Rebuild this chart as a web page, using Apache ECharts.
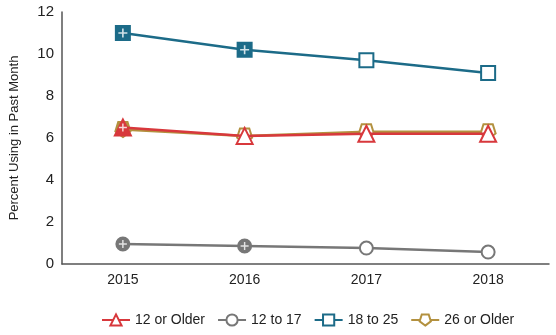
<!DOCTYPE html>
<html>
<head>
<meta charset="utf-8">
<script src="https://cdn.jsdelivr.net/npm/echarts@6/dist/echarts.min.js"></script>
<style>
  html, body { margin: 0; padding: 0; background: #fff; }
  #chart { width: 556px; height: 335px; }
</style>
</head>
<body>
<div id="chart"></div>
<script>
// Past-month use by age group, 2015-2018
const years = ['2015', '2016', '2017', '2018'];
const age12Plus = [6.5, 6.1, 6.2, 6.2];
const age12to17 = [0.95, 0.86, 0.76, 0.57];
const age18to25 = [11.0, 10.2, 9.7, 9.1];
const age26Plus = [6.4, 6.1, 6.3, 6.3];
// "+" = estimate differs significantly from the 2018 estimate
const sig12Plus = [true, false, false, false];
const sig12to17 = [true, true, false, false];
const sig18to25 = [true, true, false, false];
const sig26Plus = [true, false, false, false];
const yTicks = [0, 2, 4, 6, 8, 10, 12];

const FONT = '"Liberation Sans", Arial, sans-serif';
const PENTAGON = 'path://M0,1 L0.951,0.309 L0.588,-0.809 L-0.588,-0.809 L-0.951,0.309 Z';
const PLUS = 'path://M-0.18,-1 L0.18,-1 L0.18,-0.18 L1,-0.18 L1,0.18 L0.18,0.18 L0.18,1 L-0.18,1 L-0.18,0.18 L-1,0.18 L-1,-0.18 L-0.18,-0.18 Z';

function lineSeries(name, values, sig, color, symbol, size, z) {
  return {
    name: name,
    type: 'line',
    data: values.map((v, i) => sig[i]
      ? { value: v, itemStyle: { color: color, borderColor: color } }
      : v),
    symbol: symbol,
    symbolSize: size,
    z: z,
    lineStyle: { color: color, width: 2.5 },
    itemStyle: { color: '#fff', borderColor: color, borderWidth: 2 },
    emphasis: { disabled: true },
    animation: false
  };
}

function plusSeries(values, sig, size, z) {
  return {
    type: 'scatter',
    data: values.map((v, i) => sig[i] ? v : null),
    symbol: PLUS,
    symbolSize: size,
    itemStyle: { color: '#fff' },
    z: z,
    silent: true,
    animation: false
  };
}

const chart = echarts.init(document.getElementById('chart'), null, { renderer: 'canvas' });
chart.setOption({
  backgroundColor: '#fff',
  grid: { left: 60, right: 7, top: 12, bottom: 71 },
  xAxis: {
    type: 'category',
    data: years,
    boundaryGap: true,
    axisLine: { lineStyle: { color: '#555', width: 1.5 } },
    axisTick: { show: false },
    axisLabel: { color: '#222', fontFamily: FONT, fontSize: 14, margin: 9 }
  },
  yAxis: {
    type: 'value',
    min: yTicks[0],
    max: yTicks[yTicks.length - 1],
    interval: 2,
    name: 'Percent Using in Past Month',
    nameLocation: 'middle',
    nameGap: 41,
    nameTextStyle: { color: '#222', fontFamily: FONT, fontSize: 13 },
    axisLine: { show: true, lineStyle: { color: '#555', width: 1.5 } },
    axisTick: { show: false },
    splitLine: { show: false },
    axisLabel: { color: '#222', fontFamily: FONT, fontSize: 15, margin: 8 }
  },
  legend: {
    bottom: 3,
    left: 96,
    itemWidth: 28,
    itemHeight: 14,
    itemGap: 12,
    textStyle: { color: '#222', fontFamily: FONT, fontSize: 14 },
    data: ['12 or Older', '12 to 17', '18 to 25', '26 or Older']
  },
  series: [
    lineSeries('12 to 17', age12to17, sig12to17, '#777777', 'circle', 13, 2),
    plusSeries(age12to17, sig12to17, 8, 3),
    lineSeries('18 to 25', age18to25, sig18to25, '#1c6b88', 'rect', 14, 4),
    plusSeries(age18to25, sig18to25, 9, 5),
    lineSeries('26 or Older', age26Plus, sig26Plus, '#b3913f', PENTAGON, 15, 6),
    lineSeries('12 or Older', age12Plus, sig12Plus, '#d8383c', 'triangle', 16, 7),
    plusSeries(age12Plus, sig12Plus, 8, 8)
  ]
});
</script>
</body>
</html>
